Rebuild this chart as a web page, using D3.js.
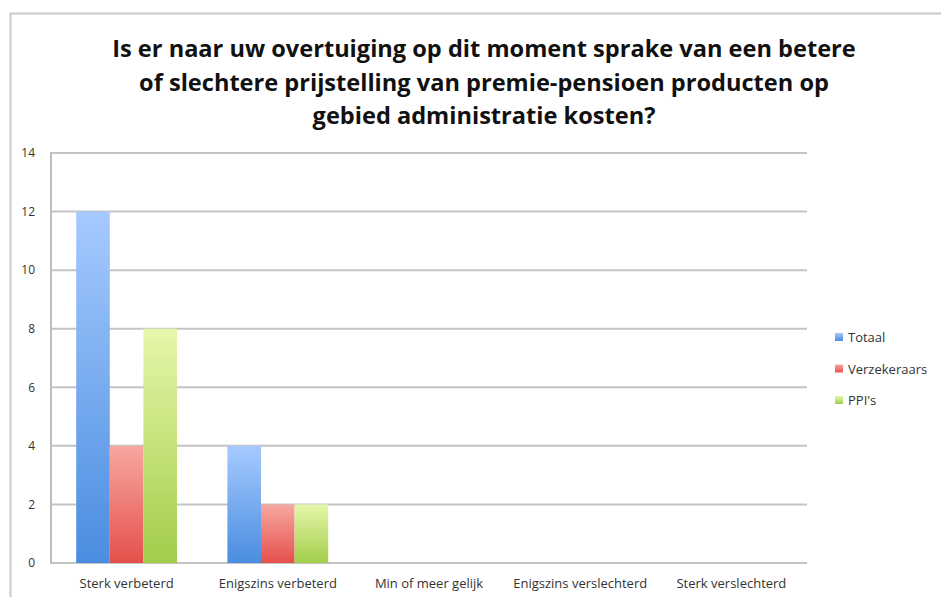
<!DOCTYPE html>
<html>
<head>
<meta charset="utf-8">
<script src="https://cdnjs.cloudflare.com/ajax/libs/d3/7.8.5/d3.min.js"></script>
<style>
    body { margin: 0; background: #fff; }
    svg { display: block; }
</style>
</head>
<body>
<div id="chart-container"></div>
<script>

var titleLines = [
    "Is er naar uw overtuiging op dit moment sprake van een betere",
    "of slechtere prijstelling van premie-pensioen producten op",
    "gebied administratie kosten?"
];
var categories = ["Sterk verbeterd", "Enigszins verbeterd", "Min of meer gelijk", "Enigszins verslechterd", "Sterk verslechterd"];
var seriesNames = ["Totaal", "Verzekeraars", "PPI's"];
var totaal = [12, 4, 0, 0, 0];
var verzekeraars = [4, 2, 0, 0, 0];
var ppis = [8, 2, 0, 0, 0];
var yTicks = [0, 2, 4, 6, 8, 10, 12, 14];

var colors = {
    "Totaal": ["#a6caff", "#4a8de0"],
    "Verzekeraars": ["#f7a7a0", "#e5504b"],
    "PPI's": ["#e6f7aa", "#a2cd4a"]
};

var width = 941, height = 597;
var labelFont = "Open Sans, DejaVu Sans, sans-serif";

var svg = d3.select("#chart-container")
    .append("svg")
    .attr("width", width)
    .attr("height", height);

// chart frame (top and left edges visible)
svg.append("path")
    .attr("d", "M10.5," + height + "V13.5H" + width)
    .attr("fill", "none")
    .attr("stroke", "#c9c9c9")
    .attr("stroke-width", 2);

// gradients
var defs = svg.append("defs");
seriesNames.forEach(function (name, i) {
    var g = defs.append("linearGradient")
        .attr("id", "grad" + i)
        .attr("x1", 0).attr("y1", 0)
        .attr("x2", 0).attr("y2", 1);
    g.append("stop").attr("offset", "0%").attr("stop-color", colors[name][0]);
    g.append("stop").attr("offset", "100%").attr("stop-color", colors[name][1]);
});

// title
var titleTexts = svg.append("g")
    .selectAll("text")
    .data(titleLines)
    .enter()
    .append("text")
    .attr("x", 484)
    .attr("y", function (d, i) { return 57 + i * 33.5; })
    .attr("text-anchor", "middle")
    .style("font-family", labelFont)
    .style("font-weight", "bold")
    .style("font-size", "22px")
    .attr("fill", "#111")
    .text(function (d) { return d; });

// fit the widest line to the reference width
var w0 = titleTexts.nodes()[0].getComputedTextLength();
titleTexts.style("font-size", (22 * 744 / w0) + "px");

var margin = { left: 51, right: 134, top: 153, bottom: 34 };
var plotW = width - margin.left - margin.right,
    plotH = height - margin.top - margin.bottom;

var chart = svg.append("g")
    .attr("transform", "translate(" + margin.left + "," + margin.top + ")");

var x0 = d3.scaleBand()
    .domain(categories)
    .range([0, plotW]);

var x1 = d3.scaleBand()
    .domain(seriesNames)
    .range([0, x0.bandwidth()])
    .paddingOuter(0.75);

var y = d3.scaleLinear()
    .domain([0, 14])
    .range([plotH, 0]);

// gridlines
chart.append("g")
    .selectAll("line")
    .data(yTicks)
    .enter()
    .append("line")
    .attr("x1", 0)
    .attr("x2", plotW)
    .attr("y1", function (d) { return y(d); })
    .attr("y2", function (d) { return y(d); })
    .attr("stroke", "#c4c4c4")
    .attr("stroke-width", 2);

chart.append("line")
    .attr("x1", 0).attr("x2", 0)
    .attr("y1", y(14) - 1).attr("y2", y(0) + 1)
    .attr("stroke", "#bdbdbd")
    .attr("stroke-width", 2);

// y axis labels
var yAxis = d3.axisLeft(y)
    .tickValues(yTicks)
    .tickSize(0)
    .tickPadding(16);

var yg = chart.append("g").call(yAxis);
yg.select(".domain").remove();
yg.selectAll("text")
    .style("font-family", labelFont)
    .style("font-size", "12px")
    .attr("fill", "#333");

// x axis labels
var xAxis = d3.axisBottom(x0)
    .tickSize(0)
    .tickPadding(16);

var xg = chart.append("g")
    .attr("transform", "translate(0," + plotH + ")")
    .call(xAxis);
xg.select(".domain").remove();
xg.selectAll("text")
    .style("font-family", labelFont)
    .style("font-size", "13px")
    .attr("fill", "#333");

// bars
var rows = categories.map(function (c, i) {
    return [
        { cat: c, name: "Totaal", value: totaal[i], s: 0 },
        { cat: c, name: "Verzekeraars", value: verzekeraars[i], s: 1 },
        { cat: c, name: "PPI's", value: ppis[i], s: 2 }
    ];
});

chart.selectAll("g.group")
    .data(rows)
    .enter()
    .append("g")
    .attr("class", "group")
    .attr("transform", function (d, i) { return "translate(" + x0(categories[i]) + ",0)"; })
    .selectAll("rect")
    .data(function (d) { return d.filter(function (b) { return b.value > 0; }); })
    .enter()
    .append("rect")
    .attr("x", function (d) { return x1(d.name); })
    .attr("width", x1.bandwidth())
    .attr("y", function (d) { return y(d.value); })
    .attr("height", function (d) { return y(0) - y(d.value); })
    .attr("fill", function (d) { return "url(#grad" + d.s + ")"; });

// legend
var legend = svg.append("g")
    .attr("transform", "translate(835,333)");

var items = legend.selectAll("g")
    .data(seriesNames)
    .enter()
    .append("g")
    .attr("transform", function (d, i) { return "translate(0," + (i * 31.5) + ")"; });

items.append("rect")
    .attr("width", 8)
    .attr("height", 8)
    .attr("fill", function (d, i) { return "url(#grad" + i + ")"; });

items.append("text")
    .attr("x", 13)
    .attr("y", 9)
    .style("font-family", labelFont)
    .style("font-size", "13px")
    .attr("fill", "#333")
    .text(function (d) { return d; });

</script>
</body>
</html>
